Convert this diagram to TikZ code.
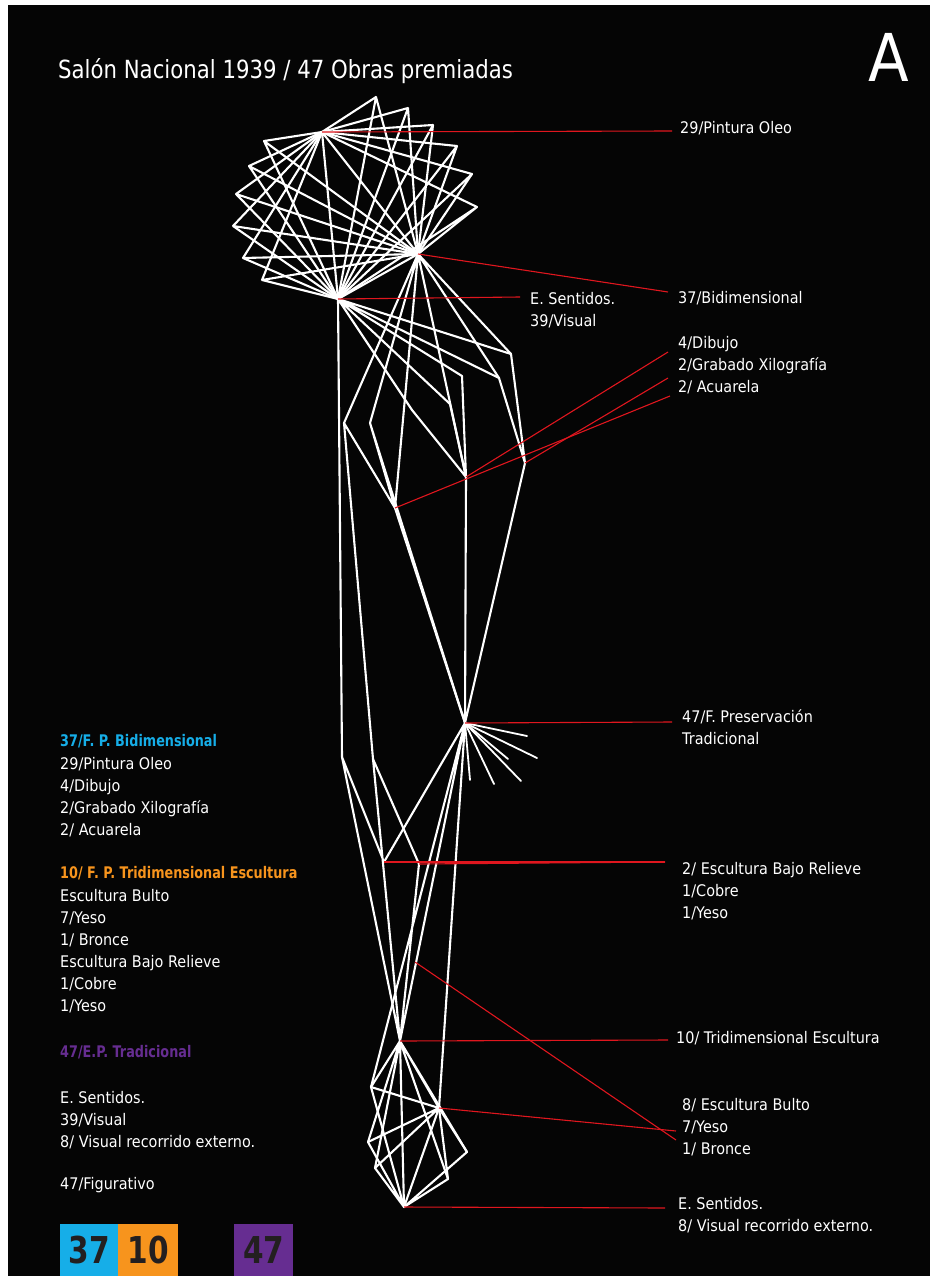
\documentclass[tikz,border=0pt]{standalone}
\usepackage{fontspec}
\setmainfont{DejaVu Sans}[FakeStretch=0.9]
\newfontfamily\titlefont{DejaVu Sans}[FakeStretch=0.85]
\newfontfamily\headfont{DejaVu Sans}[FakeStretch=0.8]
\newfontfamily\letterfont{DejaVu Sans}[FakeStretch=0.9]
\definecolor{bg}{HTML}{050505}
\definecolor{leadred}{HTML}{E0161E}
\definecolor{fpblue}{HTML}{16AEE8}
\definecolor{fporange}{HTML}{F7941D}
\definecolor{eppurple}{HTML}{662D91}
\definecolor{numdark}{HTML}{231F20}
\begin{document}
\begin{tikzpicture}[x=1pt,y=-1pt,
  web/.style={draw=white,line width=2.1pt,line cap=round,line join=round},
  spoke/.style={web,line width=1.8pt},
  lead/.style={draw=leadred,line width=1.1pt},
  lbl/.style={anchor=west,inner sep=0pt,text=white,font=\fontsize{16}{22}\selectfont,align=left},
  legend/.style={lbl},
  head/.style={anchor=west,inner sep=0pt,font=\headfont\fontsize{16}{22}\selectfont\bfseries},
  numbox/.style={anchor=north west,inner sep=0pt,minimum height=52pt,text=numdark,font=\headfont\fontsize{37}{37}\selectfont\bfseries}]

% page and black panel
\fill[white] (0,0) rectangle (930,1276);
\fill[bg] (8,5) rectangle (930,1276);
\useasboundingbox (0,0) rectangle (930,1276);

% title
\node[anchor=base west,inner sep=0pt,text=white,font=\titlefont\fontsize{25}{25}\selectfont] (title) at (58,79) {Salón Nacional 1939 / 47 Obras premiadas};
\node[anchor=base west,inner sep=0pt,text=white,font=\letterfont\fontsize{66}{66}\selectfont] (letter) at (868,82) {A};

% hubs
\coordinate (P) at (322,132);
\coordinate (B) at (418,254);
\coordinate (V) at (338,299);
\coordinate (F) at (465,723);
\coordinate (T) at (400,1041);
\coordinate (Bu) at (439,1108);
\coordinate (S) at (404,1207);

% outer points of the upper cluster
\coordinate (o1) at (376,97);
\coordinate (o2) at (408,108);
\coordinate (o3) at (433,125);
\coordinate (o4) at (457,146);
\coordinate (o5) at (472,174);
\coordinate (o6) at (477,207);
\coordinate (o7) at (264,141);
\coordinate (o8) at (249,166);
\coordinate (o9) at (236,194);
\coordinate (o10) at (233,226);
\coordinate (o11) at (243,258);
\coordinate (o12) at (262,280);

% intermediate points
\coordinate (m1) at (511,354);
\coordinate (m2) at (499,378);
\coordinate (m3) at (462,376);
\coordinate (m4) at (450,404);
\coordinate (m5) at (412,410);
\coordinate (m6) at (344,423);
\coordinate (m7) at (370,423);
\coordinate (n1) at (525,463);
\coordinate (n2) at (466,477);
\coordinate (n3) at (395,508);
\coordinate (c1) at (342,757);
\coordinate (c2) at (373,759);
\coordinate (e1) at (384,862);
\coordinate (e2) at (419,864);
\coordinate (g) at (415,962);

% fan around F
\coordinate (f1) at (527,736);
\coordinate (f2) at (537,758);
\coordinate (f3) at (508,759);
\coordinate (f4) at (521,781);
\coordinate (f5) at (494,784);
\coordinate (f6) at (470,780);

% lower cluster
\coordinate (a1) at (371,1087);
\coordinate (a2) at (368,1142);
\coordinate (a3) at (375,1168);
\coordinate (b1) at (467,1152);
\coordinate (b2) at (448,1179);

% upper cluster web
\draw[web] (P) -- (B) (P) -- (V) (B) -- (V);
\foreach \o in {o1,o2,o3,o4,o5,o6,o7,o8,o9,o10,o11,o12}{
  \draw[web] (\o) -- (P) (\o) -- (B) (\o) -- (V);
}

% descending branches
\draw[web] (V) -- (m1) (V) -- (m2) (V) -- (m3) (V) -- (m4) (V) -- (m5) (V) -- (c1);
\draw[web] (B) -- (m6) (B) -- (m7) (B) -- (n2) (B) -- (m1) (B) -- (m2) (B) -- (n3);
\draw[web] (m1) -- (n1) (m2) -- (n1) (m3) -- (n2) (m4) -- (n2) (m5) -- (n2);
\draw[web] (m6) -- (n3) (m7) -- (n3) (m6) -- (c2) (m7) -- (F);
\draw[web] (n1) -- (F) (n2) -- (F) (n3) -- (F);

% middle section
\draw[web] (c1) -- (e1) (c1) -- (T) (c2) -- (e2) (c2) -- (T);
\draw[web] (F) -- (e1) (F) -- (T) (F) -- (a1) (F) -- (Bu) (e2) -- (T);
\foreach \f in {f1,f2,f3,f4,f5,f6}{ \draw[spoke] (F) -- (\f); }

% lower cluster
\draw[web] (T) -- (a1) (T) -- (a2) (T) -- (a3) (T) -- (b1) (T) -- (b2) (T) -- (S) (T) -- (Bu);
\draw[web] (Bu) -- (a1) (Bu) -- (a2) (Bu) -- (a3) (Bu) -- (S) (Bu) -- (b1);
\draw[web] (S) -- (a1) (S) -- (a2) (S) -- (a3) (S) -- (b1) (S) -- (b2) (b2) -- (Bu);

% label anchors for leaders
\coordinate (lP) at (672,131);
\coordinate (lB) at (668,292);
\coordinate (lV) at (520,297);
\coordinate (lDib) at (668,352);
\coordinate (lGra) at (668,378);
\coordinate (lAcu) at (670,396);
\coordinate (lF) at (672,722);
\coordinate (lE) at (665,862);
\coordinate (lT) at (668,1040);
\coordinate (lBu) at (676,1131);
\coordinate (lBr) at (676,1140);
\coordinate (lS) at (665,1208);

% red leaders
\draw[lead] (P) -- (lP);
\draw[lead] (B) -- (lB);
\draw[lead] (V) -- (lV);
\draw[lead] (n2) -- (lDib);
\draw[lead] (n1) -- (lGra);
\draw[lead] (n3) -- (lAcu);
\draw[lead] (F) -- (lF);
\draw[lead] (e1) -- (lE);
\draw[lead] (e2) -- (lE);
\draw[lead] (T) -- (lT);
\draw[lead] (Bu) -- (lBu);
\draw[lead] (g) -- (lBr);
\draw[lead] (S) -- (lS);

% right labels
\node[lbl] (tP) at (680,128) {29/Pintura Oleo};
\node[lbl] (tB) at (678,298) {37/Bidimensional};
\node[lbl,anchor=north west] (tV) at (530,292) {E. Sentidos.\\39/Visual};
\node[lbl,anchor=north west] (tD) at (678,336) {4/Dibujo\\2/Grabado Xilografía\\2/ Acuarela};
\node[lbl,anchor=north west] (tF) at (682,709) {47/F. Preservación\\Tradicional};
\node[lbl,anchor=north west] (tE) at (682,862) {2/ Escultura Bajo Relieve\\1/Cobre\\1/Yeso};
\node[lbl] (tT) at (676,1038) {10/ Tridimensional Escultura};
\node[lbl,anchor=north west] (tBu) at (682,1098) {8/ Escultura Bulto\\7/Yeso\\1/ Bronce};
\node[lbl,anchor=north west] (tS) at (678,1197) {E. Sentidos.\\8/ Visual recorrido externo.};

% left legend
\node[head,text=fpblue] (h1) at (60,741) {37/F. P. Bidimensional};
\node[legend,anchor=north west] (l1) at (60,757) {29/Pintura Oleo\\4/Dibujo\\2/Grabado Xilografía\\2/ Acuarela};
\node[head,text=fporange] (h2) at (60,873) {10/ F. P. Tridimensional Escultura};
\node[legend,anchor=north west] (l2) at (60,889) {Escultura Bulto\\7/Yeso\\1/ Bronce\\Escultura Bajo Relieve\\1/Cobre\\1/Yeso};
\node[head,text=eppurple] (h3) at (60,1052) {47/E.P. Tradicional};
\node[legend,anchor=north west] (l3) at (60,1091) {E. Sentidos.\\39/Visual\\8/ Visual recorrido externo.};
\node[legend] (l4) at (60,1185) {47/Figurativo};

% totals
\node[numbox,fill=fpblue,minimum width=58pt] (n37) at (60,1224) {37};
\node[numbox,fill=fporange,minimum width=60pt] (n10) at (118,1224) {10};
\node[numbox,fill=eppurple,minimum width=59pt] (n47) at (234,1224) {47};
\end{tikzpicture}
\end{document}
